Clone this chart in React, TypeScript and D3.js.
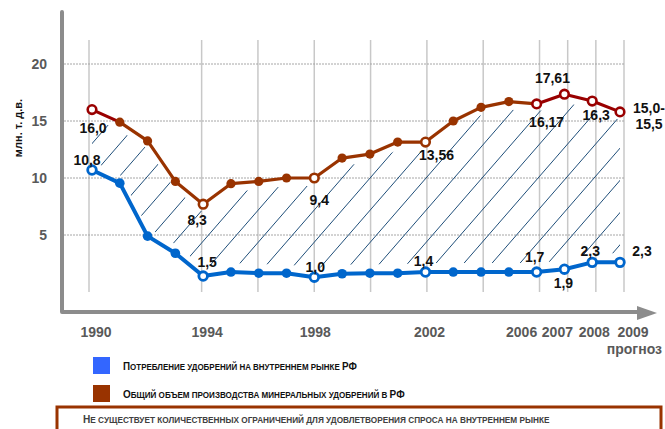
import React, { useLayoutEffect, useRef, useState } from 'react';
import * as d3 from 'd3';

const years = [1990, 1991, 1992, 1993, 1994, 1995, 1996, 1997, 1998, 1999, 2000, 2001, 2002, 2003, 2004, 2005, 2006, 2007, 2008, 2009];
const consumption = [10.7, 9.55, 4.9, 3.4, 1.4, 1.75, 1.65, 1.65, 1.3, 1.6, 1.65, 1.65, 1.75, 1.75, 1.75, 1.75, 1.75, 2.0, 2.6, 2.6];
const production = [16.0, 14.9, 13.25, 9.7, 7.7, 9.5, 9.7, 10.0, 10.0, 11.75, 12.1, 13.15, 13.15, 15.0, 16.2, 16.7, 16.5, 17.35, 16.75, 15.8];
const keyYears = [1990, 1994, 1998, 2002, 2006, 2007, 2008, 2009];
const consumptionLabels = ['10,8', '1,5', '1,0', '1,4', '1,7', '1,9', '2,3', '2,3'];
const productionLabels = ['16,0', '8,3', '9,4', '13,56', '16,17', '17,61', '16,3', '15,0-|15,5'];
const xTickYears = [1990, 1994, 1998, 2002, 2006, 2007, 2008, 2009];
const gridYears = [1990, 1994, 1996, 1998, 2000, 2002, 2004, 2006, 2007, 2008, 2009];
const yTicks = [5, 10, 15, 20];
const yAxisTitle = 'млн. т. д.в.';
const forecastNote = 'прогноз';
const legendItems = ['Потребление удобрений на внутреннем рынке РФ', 'Общий объем производства минеральных удобрений в РФ'];
const noteText = 'Не существует количественных ограничений для удовлетворения спроса на внутреннем рынке';

// layout (pixel nudges, not data)
const consLabelOffset = [[-5, -10], [4, -14], [1, -10], [-2, -11], [-2, -15], [-1, 14], [-2, -11], [22, -11]];
const prodLabelOffset = [[1, 18], [-6, 16], [5, 22], [11, 13], [10, 18], [-12, -16], [4, 14], [29, -4]];
const xTickDx = [4, 4, 1, 4, -15, -7, 2, 13];

const FONT = "'Liberation Sans', Arial, sans-serif";
const BLUE = '#0066cc';
const BROWN = '#993300';
const DARKRED = '#990000';
const HATCH = '#1f4e79';

function SmallCaps({ text, x, y, big, small, width, fill }: any) {
  const ref = useRef<SVGTextElement>(null);
  const [sx, setSx] = useState(1);
  useLayoutEffect(() => {
    if (ref.current) {
      const w = ref.current.getComputedTextLength();
      if (w > 0) setSx(width / w);
    }
  }, [text, width]);
  const runs: { t: string; big: boolean }[] = [];
  for (const ch of text) {
    const isBig = ch !== ch.toLowerCase();
    const last = runs[runs.length - 1];
    if (last && last.big === isBig) last.t += ch.toUpperCase();
    else runs.push({ t: ch.toUpperCase(), big: isBig });
  }
  return (
    <g transform={`translate(${x},${y}) scale(${sx},1)`}>
      <text ref={ref} x={0} y={0} fontFamily={FONT} fontWeight="bold" fill={fill}>
        {runs.map((r, i) => (
          <tspan key={i} fontSize={r.big ? big : small}>{r.t}</tspan>
        ))}
      </text>
    </g>
  );
}

export default function App() {
  const W = 665, H = 429;
  const x = d3.scaleLinear().domain([1990, 2009]).range([92, 620]);
  const gx = d3.scaleLinear().domain([1990, 2009]).range([89, 624]);
  const y = d3.scaleLinear().domain([0, 20]).range([292, 64]);

  const idx = years.map((_, i) => i);
  const clipArea = d3.area<number>()
    .x((i) => x(years[i]))
    .y0((i) => y(consumption[i]) - 9)
    .y1((i) => y(production[i]) + 8)(idx) as string;

  const blueLine = d3.line<number>().x((i) => x(years[i])).y((i) => y(consumption[i]))(idx) as string;

  const hatchLines: { x1: number; y1: number; x2: number; y2: number }[] = [];
  const slope = 1.15;
  for (let k = -20; k < 40; k++) {
    const bx = 40 + k * 28;
    hatchLines.push({ x1: bx, y1: 300, x2: bx + 300 / slope, y2: 0 });
  }

  const isKey = (yr: number) => keyYears.includes(yr);

  return (
    <svg width={W} height={H} style={{ position: 'absolute', left: 0, top: 0, background: '#fff' }}>
      <defs>
        <clipPath id="hatchClip">
          <path d={clipArea} />
        </clipPath>
      </defs>
      <rect x={0} y={0} width={W} height={H} fill="#fff" />

      {/* vertical grid */}
      {gridYears.map((g) => (
        <line key={g} x1={gx(g)} x2={gx(g)} y1={40} y2={292} stroke="#c8c8c8" strokeWidth={1.5} />
      ))}
      {/* horizontal grid */}
      {yTicks.map((t) => (
        <line key={t} x1={64} x2={625} y1={y(t)} y2={y(t)} stroke="#a6a6a6" strokeWidth={1} strokeDasharray="2,1" />
      ))}

      {/* hatch */}
      <g clipPath="url(#hatchClip)">
        {hatchLines.map((l, i) => (
          <line key={i} x1={l.x1} y1={l.y1} x2={l.x2} y2={l.y2} stroke={HATCH} strokeWidth={1} />
        ))}
      </g>

      {/* production line segments */}
      {idx.slice(0, -1).map((i) => (
        <line key={i} x1={x(years[i])} y1={y(production[i])} x2={x(years[i + 1])} y2={y(production[i + 1])}
          stroke={i === 0 || i >= 16 ? DARKRED : BROWN} strokeWidth={3.2} strokeLinecap="round" />
      ))}
      {/* consumption line */}
      <path d={blueLine} fill="none" stroke={BLUE} strokeWidth={4} strokeLinejoin="round" />

      {/* markers */}
      {idx.map((i) => {
        const yr = years[i];
        const key = isKey(yr);
        const pc = i === 0 || i >= 16 ? DARKRED : BROWN;
        return (
          <g key={yr}>
            {key ? (
              <circle cx={x(yr)} cy={y(production[i])} r={4.3} fill="#fff" stroke={pc} strokeWidth={2.6} />
            ) : (
              <circle cx={x(yr)} cy={y(production[i])} r={4.6} fill={BROWN} />
            )}
            {key ? (
              <circle cx={x(yr)} cy={y(consumption[i])} r={4.3} fill="#fff" stroke={BLUE} strokeWidth={2.8} />
            ) : (
              <circle cx={x(yr)} cy={y(consumption[i])} r={4.8} fill={BLUE} />
            )}
          </g>
        );
      })}

      {/* data labels */}
      {keyYears.map((yr, k) => {
        const i = years.indexOf(yr);
        const [dx, dy] = consLabelOffset[k];
        return (
          <text key={'c' + yr} x={x(yr) + dx} y={y(consumption[i]) + dy} textAnchor="middle" dominantBaseline="central"
            fontFamily={FONT} fontWeight="bold" fontSize={14} fill="#111">{consumptionLabels[k]}</text>
        );
      })}
      {keyYears.map((yr, k) => {
        const i = years.indexOf(yr);
        const [dx, dy] = prodLabelOffset[k];
        const parts = productionLabels[k].split('|');
        return parts.map((p, j) => (
          <text key={'p' + yr + j} x={x(yr) + dx} y={y(production[i]) + dy + j * 16} textAnchor="middle" dominantBaseline="central"
            fontFamily={FONT} fontWeight="bold" fontSize={14} fill="#111">{p}</text>
        ));
      })}

      {/* axes */}
      <path d="M62,12 V312 H640" fill="none" stroke="#8c8c8c" strokeWidth={4} strokeLinejoin="round" strokeLinecap="round" />
      <polygon points="637,306 657,313 637,320" fill="#8c8c8c" />

      {/* y ticks */}
      {yTicks.map((t) => (
        <text key={t} x={47} y={y(t)} textAnchor="end" dominantBaseline="central" fontFamily={FONT} fontWeight="bold" fontSize={14} fill="#595959">{t}</text>
      ))}
      <text transform="translate(18,128) rotate(-90)" textAnchor="middle" dominantBaseline="central" fontFamily={FONT} fontWeight="bold" fontSize={11} fill="#111">{yAxisTitle}</text>

      {/* x ticks */}
      {xTickYears.map((yr, k) => (
        <text key={yr} x={x(yr) + xTickDx[k]} y={332} textAnchor="middle" dominantBaseline="central" fontFamily={FONT} fontWeight="bold" fontSize={14} fill="#595959">{yr}</text>
      ))}
      <text x={662} y={349} textAnchor="end" dominantBaseline="central" fontFamily={FONT} fontWeight="bold" fontSize={14} fill="#595959">{forecastNote}</text>

      {/* legend */}
      <rect x={93} y={357} width={17} height={17} fill="#3366ff" />
      <rect x={93} y={385} width={17} height={17} fill={BROWN} />
      <SmallCaps text={legendItems[0]} x={123} y={370} big={10.5} small={8.5} width={234} fill="#111" />
      <SmallCaps text={legendItems[1]} x={123} y={398} big={10.5} small={8.5} width={282} fill="#111" />

      {/* note box */}
      <rect x={57} y={407} width={604} height={40} fill="#fff" stroke={BROWN} strokeWidth={3} />
      <SmallCaps text={noteText} x={83} y={423} big={10.5} small={8.5} width={467} fill="#404040" />
    </svg>
  );
}
